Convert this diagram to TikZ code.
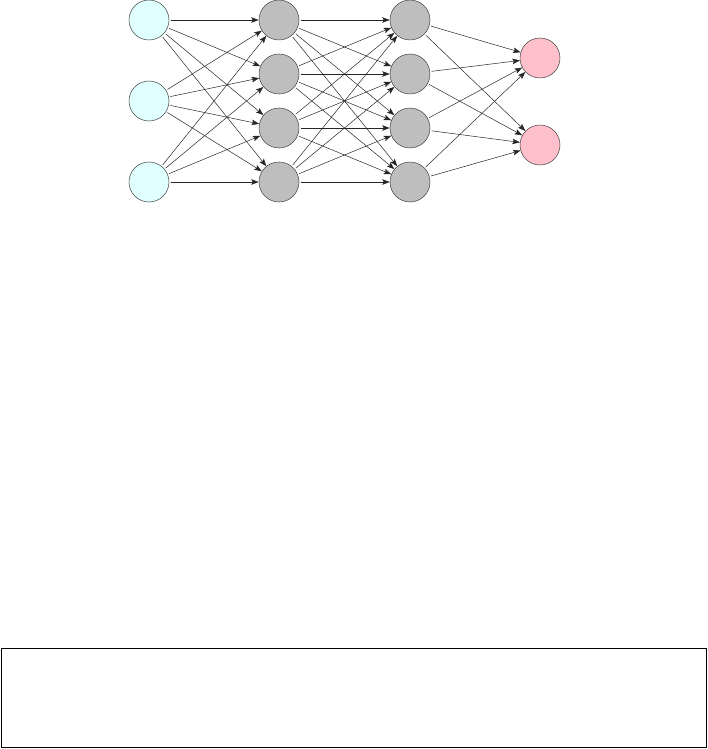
\documentclass[tikz,border=0pt]{standalone}
\usetikzlibrary{arrows.meta}
\definecolor{incol}{RGB}{224,255,255}
\definecolor{hidcol}{RGB}{190,190,190}
\definecolor{outcol}{RGB}{255,192,203}
\begin{document}
\begin{tikzpicture}[x=1pt,y=-1pt,
  neuron/.style={circle,draw=black!75,line width=0.5pt,minimum size=40pt,inner sep=0pt},
  inn/.style={neuron,fill=incol},
  hid/.style={neuron,fill=hidcol},
  outn/.style={neuron,fill=outcol},
  conn/.style={draw=black!85,line width=0.5pt,-{Stealth[length=7.5pt,width=5.5pt,inset=1.5pt]},shorten <=1.5pt}]
\useasboundingbox (0,0) rectangle (708,749);
\node[inn] (i1) at (149,20) {};
\node[inn] (i2) at (149,101) {};
\node[inn] (i3) at (149,182) {};
\foreach \k/\y in {1/20,2/74,3/128,4/182}{
  \node[hid] (a\k) at (279,\y) {};
  \node[hid] (b\k) at (410,\y) {};
}
\node[outn] (o1) at (540,58) {};
\node[outn] (o2) at (540,145) {};
\foreach \i in {1,2,3}{\foreach \j in {1,2,3,4}{\draw[conn] (i\i) -- (a\j);}}
\foreach \i in {1,2,3,4}{\foreach \j in {1,2,3,4}{\draw[conn] (a\i) -- (b\j);}}
\foreach \i in {1,2,3,4}{\foreach \j in {1,2}{\draw[conn] (b\i) -- (o\j);}}
\node[draw=black,line width=1pt,minimum width=705pt,minimum height=99pt,inner sep=0pt] (box) at (353.5,697.5) {};
\end{tikzpicture}
\end{document}
